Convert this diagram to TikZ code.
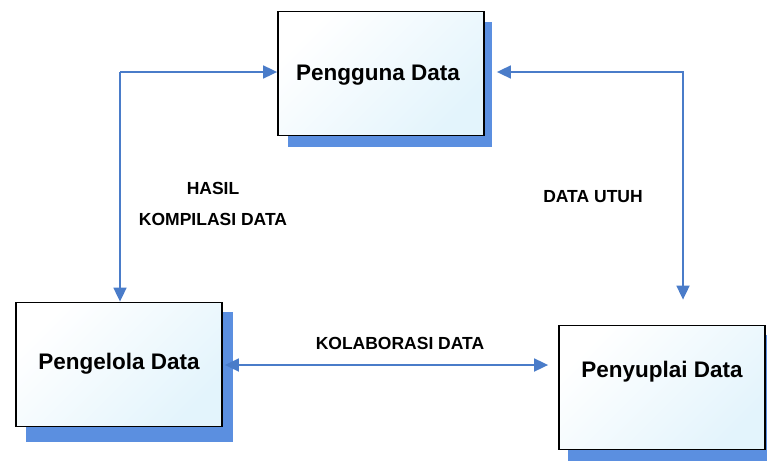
\documentclass[tikz,border=0pt]{standalone}
\usepackage{fontspec}
\setmainfont{Liberation Sans}
\usetikzlibrary{arrows.meta,shadings}
\definecolor{arrowblue}{HTML}{4A7CC9}
\definecolor{shadowblue}{HTML}{5B8FE0}
\definecolor{boxlight}{HTML}{E3F4FC}
\tikzset{
  databox/.style={draw=black, line width=1.8pt, minimum width=206pt, minimum height=124pt,
    left color=white, right color=boxlight, shading angle=45, inner sep=0pt},
  boxtext/.style={font=\bfseries\fontsize{22.5}{26}\selectfont, inner sep=0pt},
  flow/.style={draw=arrowblue, line width=1.8pt, -{Triangle[length=14pt,width=13pt]}},
  flow2/.style={draw=arrowblue, line width=1.8pt, {Triangle[length=14pt,width=13pt]}-{Triangle[length=14pt,width=13pt]}},
  lbl/.style={font=\bfseries\fontsize{17.5}{31}\selectfont, align=center, inner sep=0pt}
}
\begin{document}
\begin{tikzpicture}[x=1pt,y=-1pt]
\useasboundingbox (0,0) rectangle (767,460);
% shadows
\fill[shadowblue] (288,22) rectangle (492,147);
\fill[shadowblue] (26,312) rectangle (233,442);
\fill[shadowblue] (568,335) rectangle (775,465);
% boxes
\node[databox] (pengguna) at (381,73.5) {};
\node[boxtext] (tpengguna) at (378,75) {Pengguna Data};
\node[databox] (pengelola) at (119,364.5) {};
\node[boxtext] (tpengelola) at (119,364) {Pengelola Data};
\node[databox] (penyuplai) at (662,387.5) {};
\node[boxtext] (tpenyuplai) at (662,372) {Penyuplai Data};
% connectors
\coordinate (cl) at (120,72);
\coordinate (cr) at (683,72);
\draw[flow] (cl) -- (pengguna.west|-cl);
\draw[flow] (cl) -- (cl|-pengelola.north);
\draw[flow2] ([xshift=12pt]pengguna.east|-cr) -- (cr) -- ([yshift=25pt]cr|-penyuplai.north);
\draw[flow2] ([xshift=2pt]pengelola.east|-0,365) -- ([xshift=-10pt]penyuplai.west|-0,365);
% labels
\node[lbl] (l1) at (213,204) {HASIL\\KOMPILASI DATA};
\node[lbl] (l2) at (593,197) {DATA UTUH};
\node[lbl] (l3) at (400,343) {KOLABORASI DATA};
\end{tikzpicture}
\end{document}
